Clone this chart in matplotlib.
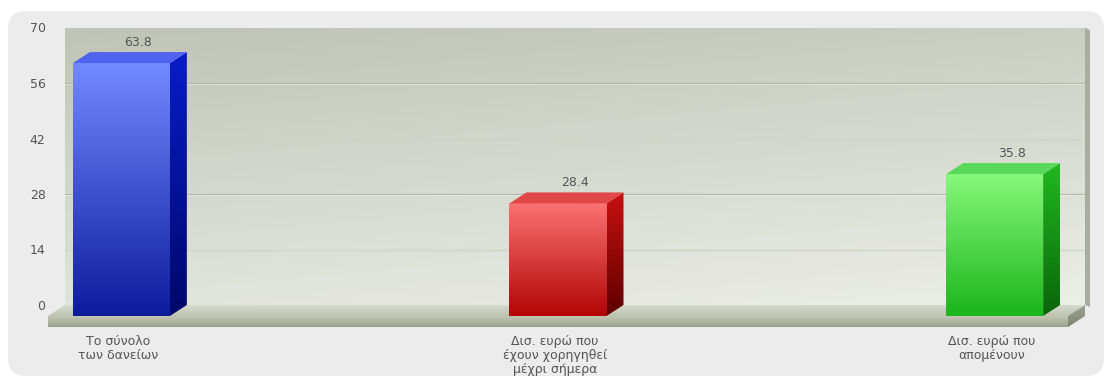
import numpy as np
import matplotlib
matplotlib.use("Agg")
import matplotlib.pyplot as plt
from matplotlib.colors import LinearSegmentedColormap
from matplotlib.patches import Polygon, FancyBboxPatch

categories = ["Το σύνολο\nτων δανείων",
              "Δισ. ευρώ που\nέχουν χορηγηθεί\nμέχρι σήμερα",
              "Δισ. ευρώ που\nαπομένουν"]
values = [63.8, 28.4, 35.8]
y_ticks = [0, 14, 28, 42, 56, 70]

# front (top, bottom), side (top, bottom), top face colours per bar
front_colors = [("#7389ff", "#0d1c9c"), ("#fb7272", "#b20606"), ("#86f77a", "#1db51d")]
side_colors = [("#0a1cc8", "#00086a"), ("#c81010", "#5e0000"), ("#20b820", "#0b650b")]
top_colors = ["#4f63ee", "#e04848", "#5ad85a"]

W, H = 1109, 380
fig = plt.figure(figsize=(W / 100, H / 100), dpi=100)
fig.patch.set_facecolor("white")

# rounded panel behind the chart
bg = fig.add_axes([0, 0, 1, 1], zorder=-1)
bg.set_xlim(0, W)
bg.set_ylim(H, 0)
bg.axis("off")
bg.add_patch(FancyBboxPatch((8, 11), 1096, 365, boxstyle="round,pad=0,rounding_size=18",
                            facecolor="#ececec", edgecolor="none"))

left, right, top, bottom = 65, 1085, 27.5, 305
ax = fig.add_axes([left / W, (H - bottom) / H, (right - left) / W, (bottom - top) / H])
xmin, xmax = -0.168, 2.168
ax.set_xlim(xmin, xmax)
ax.set_ylim(0, 70)
ax.set_autoscale_on(False)
ax.patch.set_alpha(0)
for s in ax.spines.values():
    s.set_visible(False)

# 3D depth offsets in data units
px_x = (right - left) / (xmax - xmin)
px_y = (bottom - top) / 70.0
DX = 17 / px_x
DY = 11 / px_y
SLAB = 11 / px_y
bw = 97 / px_x


def grad_fill(poly, c_top, c_bot, y0, y1, x0, x1, z):
    cmap = LinearSegmentedColormap.from_list("g", [c_bot, c_top])
    g = np.linspace(0, 1, 64).reshape(-1, 1)
    im = ax.imshow(g, cmap=cmap, origin="lower", aspect="auto",
                   extent=(x0, x1, y0, y1), zorder=z, interpolation="bilinear")
    p = Polygon(poly, closed=True, transform=ax.transData, facecolor="none",
                edgecolor="none")
    im.set_clip_path(p)
    im.set_clip_box(fig.bbox)
    im.set_clip_on(True)
    return im


# back wall with a soft diagonal gradient
yy, xx = np.mgrid[0:1:80j, 0:1:160j]
shade = 0.75 * yy + 0.25 * (1 - xx)
wall_cmap = LinearSegmentedColormap.from_list("wall", ["#eceee8", "#c0c4b6"])
ax.imshow(shade, cmap=wall_cmap, origin="lower", aspect="auto",
          extent=(xmin, xmax, 0, 70), zorder=0, interpolation="bilinear")

# right wall edge
edge = Polygon([(xmax, 0), (xmax, 70), (xmax + 5 / px_x, 69.3), (xmax + 5 / px_x, -0.5)],
               closed=True, facecolor="#a9ad9f", edgecolor="none", zorder=1, clip_on=False)
ax.add_patch(edge)

for t in y_ticks[1:-1]:
    ax.axhline(t, color="#b4b9a8", lw=0.9, zorder=1)
    ax.axhline(t - 0.25, color="#f4f5f1", lw=0.6, zorder=1, alpha=0.6)

# floor slab: top, front and right side faces
floor_top = [(xmin, 0), (xmax, 0), (xmax - DX, -DY), (xmin - DX, -DY)]
grad_fill(floor_top, "#d6d9cc", "#bfc4b1", -DY, 0, xmin - DX, xmax, 2)
floor_front = [(xmin - DX, -DY), (xmax - DX, -DY), (xmax - DX, -DY - SLAB), (xmin - DX, -DY - SLAB)]
grad_fill(floor_front, "#c2c6b3", "#9da28d", -DY - SLAB, -DY, xmin - DX, xmax - DX, 2)
floor_side = [(xmax - DX, -DY), (xmax, 0), (xmax, -SLAB), (xmax - DX, -DY - SLAB)]
grad_fill(floor_side, "#9ea290", "#7f8371", -DY - SLAB, 0, xmax - DX, xmax, 2)

# bars
for i, (v, fc, sc, tc) in enumerate(zip(values, front_colors, side_colors, top_colors)):
    x0, x1 = i - bw / 2, i + bw / 2
    front = [(x0 - DX, -DY), (x1 - DX, -DY), (x1 - DX, v - DY), (x0 - DX, v - DY)]
    grad_fill(front, fc[0], fc[1], -DY, v - DY, x0 - DX, x1 - DX, 4)
    side = [(x1 - DX, -DY), (x1, 0), (x1, v), (x1 - DX, v - DY)]
    grad_fill(side, sc[0], sc[1], -DY, v, x1 - DX, x1, 4)
    topf = Polygon([(x0 - DX, v - DY), (x1 - DX, v - DY), (x1, v), (x0, v)],
                   closed=True, facecolor=tc, edgecolor="none", zorder=4, clip_on=False)
    ax.add_patch(topf)
    ax.text(i, v + 10 / px_y, f"{v}", ha="center", va="center", fontsize=9,
            color="#555555", zorder=5)
    ax.text(i - DX - 3 / px_x, -DY - SLAB - 8 / px_y, categories[i], ha="center", va="top",
            fontsize=9, color="#555555", linespacing=1.1, clip_on=False)

ax.set_yticks(y_ticks)
ax.set_yticklabels([str(t) for t in y_ticks], fontsize=9, color="#555555")
ax.tick_params(axis="y", length=0, pad=14)
ax.set_xticks([])

fig.savefig("out.png", dpi=100, facecolor="white")
